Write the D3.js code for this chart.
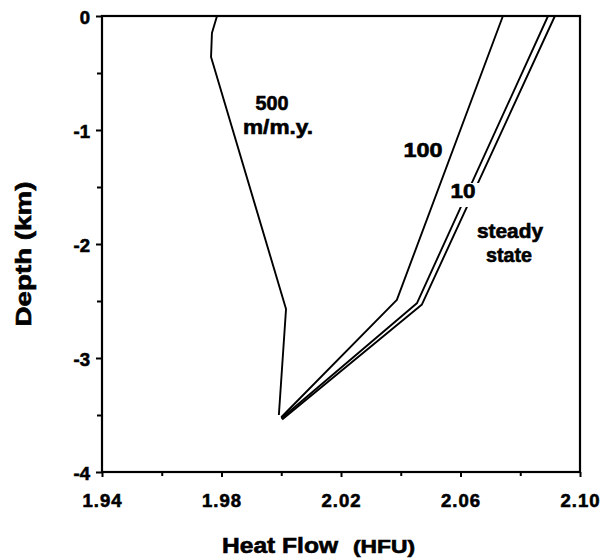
<!DOCTYPE html>
<html>
<head>
<meta charset="utf-8">
<script src="https://cdn.jsdelivr.net/npm/d3@7"></script>
<style>
  html, body { margin: 0; padding: 0; background: #fff; }
  svg { display: block; }
  text { font-family: "Liberation Sans", Arial, Helvetica, sans-serif; font-weight: bold; fill: #000; stroke: #000; stroke-width: 0.6px; }
</style>
</head>
<body>
<svg id="chart" width="610" height="559"></svg>
<script>
// ---- data ----
const xTicks = [1.94, 1.98, 2.02, 2.06, 2.10];
const xTickLabels = ["1.94", "1.98", "2.02", "2.06", "2.10"];
const xMinorTicks = [1.96, 2.00, 2.04, 2.08];
const yTicks = [0, -1, -2, -3, -4];
const yTickLabels = ["0", "-1", "-2", "-3", "-4"];
const yMinorTicks = [-0.5, -1.5, -2.5, -3.5];

const hf500 = [1.9785, 1.9768, 1.9765, 2.0016, 1.9992];
const depth500 = [0, -0.15, -0.36, -2.57, -3.50];
const hf100 = [2.0742, 2.0387, 2.0000];
const depth100 = [0, -2.49, -3.52];
const hf10 = [2.0893, 2.0454, 2.0000];
const depth10 = [0, -2.52, -3.53];
const hfSteady = [2.0916, 2.0471, 2.0003];
const depthSteady = [0, -2.53, -3.54];

const curveNames = ["500", "100", "10", "steady state"];
const labelTexts = ["500", "m/m.y.", "100", "10", "steady", "state"];

(function () {
// ---- layout ----
const svg = d3.select("#chart");
const pLeft = 102, pRight = 580, pTop = 16, pBottom = 472;
const x = d3.scaleLinear().domain([1.94, 2.10]).range([pLeft, pRight]);
const y = d3.scaleLinear().domain([0, -4]).range([pTop, pBottom]);

// minor ticks
svg.append("g").attr("transform", `translate(0,${pBottom})`)
  .call(d3.axisBottom(x).tickValues(xMinorTicks).tickSize(4).tickFormat(""))
  .call(g => g.select(".domain").remove());
svg.append("g").attr("transform", `translate(${pLeft},0)`)
  .call(d3.axisLeft(y).tickValues(yMinorTicks).tickSize(5).tickFormat(""))
  .call(g => g.select(".domain").remove());

// major ticks
const xAxis = svg.append("g").attr("transform", `translate(0,${pBottom})`)
  .call(d3.axisBottom(x).tickValues(xTicks).tickSize(5).tickPadding(17)
        .tickFormat((d, i) => xTickLabels[i]));
xAxis.select(".domain").remove();
xAxis.attr("font-size", 18.5).attr("font-family", null).attr("fill", "#000");
xAxis.selectAll("text")
  .attr("fill", "#000").attr("stroke", "#000").attr("stroke-width", 0.7)
  .style("letter-spacing", "1px");

const yAxis = svg.append("g").attr("transform", `translate(${pLeft},0)`)
  .call(d3.axisLeft(y).tickValues(yTicks).tickSize(6).tickPadding(6)
        .tickFormat((d, i) => yTickLabels[i]));
yAxis.select(".domain").remove();
yAxis.attr("font-size", 18.5).attr("font-family", null).attr("fill", "#000");
yAxis.selectAll("text").attr("dy", "0.42em")
  .attr("fill", "#000").attr("stroke", "#000").attr("stroke-width", 0.7);

svg.selectAll(".tick line").attr("stroke", "#000").attr("stroke-width", 2);

// frame
svg.append("rect").attr("x", pLeft).attr("y", pTop)
  .attr("width", pRight - pLeft).attr("height", pBottom - pTop)
  .attr("fill", "none").attr("stroke", "#000").attr("stroke-width", 2.2);

// curves
const line = d3.line().x(d => x(d[0])).y(d => y(d[1]));
const series = [
  d3.zip(hf500, depth500),
  d3.zip(hf100, depth100),
  d3.zip(hf10, depth10),
  d3.zip(hfSteady, depthSteady)
];
svg.append("g").selectAll("path").data(series).join("path")
  .attr("d", line).attr("fill", "none").attr("stroke", "#000")
  .attr("stroke-width", 1.9).attr("stroke-linejoin", "round");

// curve labels
const labelLayout = [
  { x: 272, y: 110, size: 19.5, len: 33 },
  { x: 278, y: 134, size: 20, len: 70 },
  { x: 423, y: 157, size: 19.5, len: 39 },
  { x: 463, y: 198, size: 19.5, len: 25, gap: true },
  { x: 510, y: 238, size: 19.5, len: 66 },
  { x: 509, y: 262, size: 19.5, len: 46 }
];
const lg = svg.append("g");
labelTexts.forEach((t, i) => {
  const L = labelLayout[i];
  if (L.gap) {
    lg.append("rect").attr("x", L.x - L.len / 2 - 3).attr("y", L.y - 15)
      .attr("width", L.len + 12).attr("height", 24).attr("fill", "#fff");
  }
  lg.append("text").attr("x", L.x).attr("y", L.y).attr("text-anchor", "middle")
    .attr("font-size", L.size).attr("textLength", L.len)
    .attr("lengthAdjust", "spacingAndGlyphs").text(t);
});

// axis titles
svg.append("text").attr("x", 222).attr("y", 553).attr("font-size", 21.5)
  .attr("textLength", 116).attr("lengthAdjust", "spacingAndGlyphs").text("Heat Flow");
svg.append("text").attr("x", 353).attr("y", 553).attr("font-size", 18)
  .attr("textLength", 62).attr("lengthAdjust", "spacingAndGlyphs").text("(HFU)");
svg.append("text").attr("transform", "translate(31,254) rotate(-90)")
  .attr("text-anchor", "middle").attr("font-size", 21.5)
  .attr("textLength", 145).attr("lengthAdjust", "spacingAndGlyphs").text("Depth  (km)");
})();
</script>
</body>
</html>
